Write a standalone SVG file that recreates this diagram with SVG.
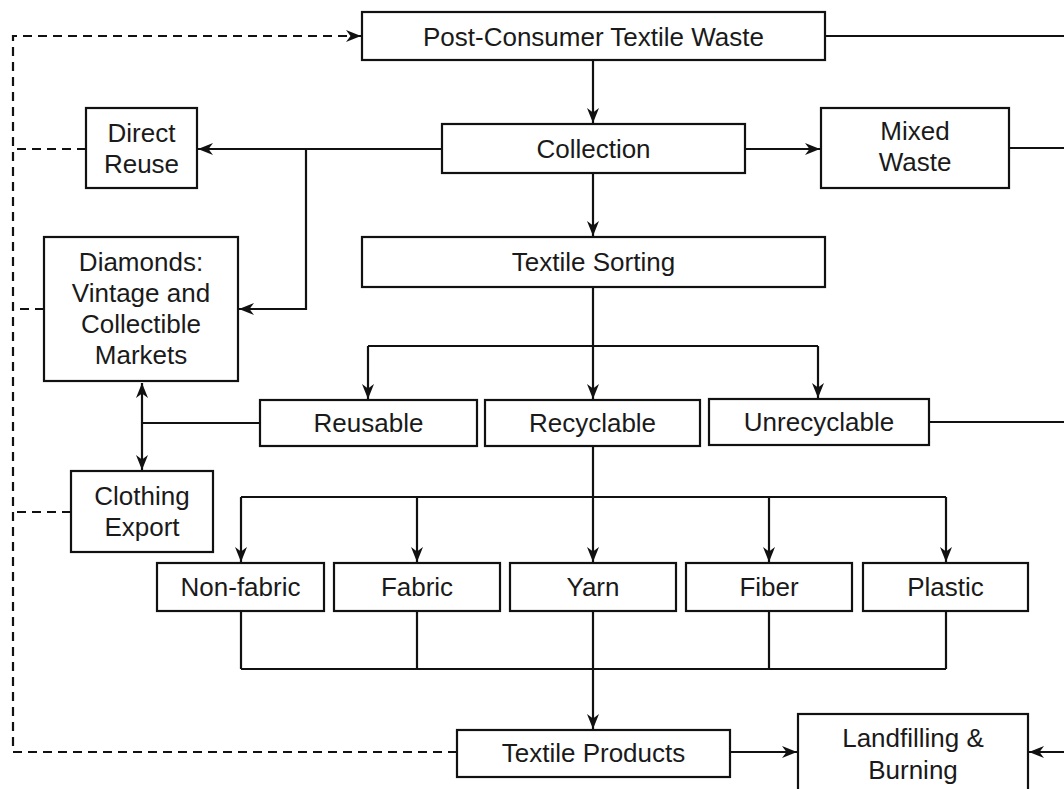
<svg xmlns="http://www.w3.org/2000/svg" width="1064" height="789" viewBox="0 0 1064 789">
<defs>
<marker id="arr" markerUnits="userSpaceOnUse" markerWidth="18" markerHeight="14" refX="15" refY="7" orient="auto">
<path d="M0,1 L15,7 L0,13 L4.5,7 z" fill="#111"/>
</marker>
<style>
.box{fill:#fff;stroke:#111;stroke-width:2.2}
.t{font-family:"Liberation Sans",Arial,sans-serif;font-size:26px;fill:#1a1a1a;text-anchor:middle}
.c{fill:none;stroke:#111;stroke-width:2.2}
.a{marker-end:url(#arr)}
.d{fill:none;stroke:#111;stroke-width:2.2;stroke-dasharray:9,6}
</style>
</defs>
<rect width="1064" height="789" fill="#fff"/>
<g id="connectors">
<path class="c a" d="M593,60 V123"/>
<path class="c a" d="M745,149 H820"/>
<path class="c a" d="M442,149 H198"/>
<path class="c a" d="M306,149 V309 H239"/>
<path class="c a" d="M593,173 V236"/>
<path class="c a" d="M593,287 V399"/>
<path class="c" d="M368,346 H818"/>
<path class="c a" d="M368,346 V399"/>
<path class="c a" d="M818,346 V398"/>
<path class="c" d="M260,423 H142"/>
<path class="c a" d="M142,423 V383"/>
<path class="c a" d="M142,423 V470"/>
<path class="c a" d="M593,446 V562"/>
<path class="c" d="M241,497 H946"/>
<path class="c a" d="M241,497 V562"/>
<path class="c a" d="M417,497 V562"/>
<path class="c a" d="M769,497 V562"/>
<path class="c a" d="M946,497 V562"/>
<path class="c" d="M241,611 V669 M417,611 V669 M769,611 V669 M946,611 V669 M241,669 H946"/>
<path class="c a" d="M593,611 V729"/>
<path class="c a" d="M730,752 H797"/>
<path class="c" d="M825,36 H1070 M1009,148 H1070 M929,422 H1070"/>
<path class="c a" d="M1070,36 V752 H1029"/>
<path class="d a" d="M457,752 H13 V36 H361"/>
<path class="d" d="M86,149 H13 M44,309 H13 M71,512 H13"/>
</g>
<g id="post-consumer"><rect class="box" x="362" y="12" width="463" height="48"/><text class="t" x="593.5" y="46">Post-Consumer Textile Waste</text></g>
<g id="collection"><rect class="box" x="442" y="124" width="303" height="49"/><text class="t" x="593.5" y="158">Collection</text></g>
<g id="direct-reuse"><rect class="box" x="86" y="108" width="111" height="80"/><text class="t" x="141.5" y="142">Direct</text><text class="t" x="141.5" y="173">Reuse</text></g>
<g id="mixed-waste"><rect class="box" x="821" y="108" width="188" height="80"/><text class="t" x="915" y="140">Mixed</text><text class="t" x="915" y="171">Waste</text></g>
<g id="textile-sorting"><rect class="box" x="362" y="237" width="463" height="50"/><text class="t" x="593.5" y="271">Textile Sorting</text></g>
<g id="diamonds"><rect class="box" x="44" y="237" width="194" height="144"/><text class="t" x="141" y="271">Diamonds:</text><text class="t" x="141" y="302">Vintage and</text><text class="t" x="141" y="333">Collectible</text><text class="t" x="141" y="364">Markets</text></g>
<g id="reusable"><rect class="box" x="260" y="400" width="217" height="46"/><text class="t" x="368.5" y="432">Reusable</text></g>
<g id="recyclable"><rect class="box" x="485" y="400" width="215" height="46"/><text class="t" x="592.5" y="432">Recyclable</text></g>
<g id="unrecyclable"><rect class="box" x="709" y="399" width="220" height="46"/><text class="t" x="819" y="431">Unrecyclable</text></g>
<g id="clothing-export"><rect class="box" x="71" y="471" width="142" height="81"/><text class="t" x="142" y="505">Clothing</text><text class="t" x="142" y="536">Export</text></g>
<g id="non-fabric"><rect class="box" x="157" y="563" width="167" height="48"/><text class="t" x="240.5" y="596">Non-fabric</text></g>
<g id="fabric"><rect class="box" x="334" y="563" width="166" height="48"/><text class="t" x="417" y="596">Fabric</text></g>
<g id="yarn"><rect class="box" x="510" y="563" width="166" height="48"/><text class="t" x="593" y="596">Yarn</text></g>
<g id="fiber"><rect class="box" x="686" y="563" width="166" height="48"/><text class="t" x="769" y="596">Fiber</text></g>
<g id="plastic"><rect class="box" x="863" y="563" width="165" height="48"/><text class="t" x="945.5" y="596">Plastic</text></g>
<g id="textile-products"><rect class="box" x="457" y="730" width="273" height="47"/><text class="t" x="593.5" y="762">Textile Products</text></g>
<g id="landfilling"><rect class="box" x="798" y="714" width="230" height="90"/><text class="t" x="913" y="747">Landfilling &amp;</text><text class="t" x="913" y="779">Burning</text></g>
</svg>
